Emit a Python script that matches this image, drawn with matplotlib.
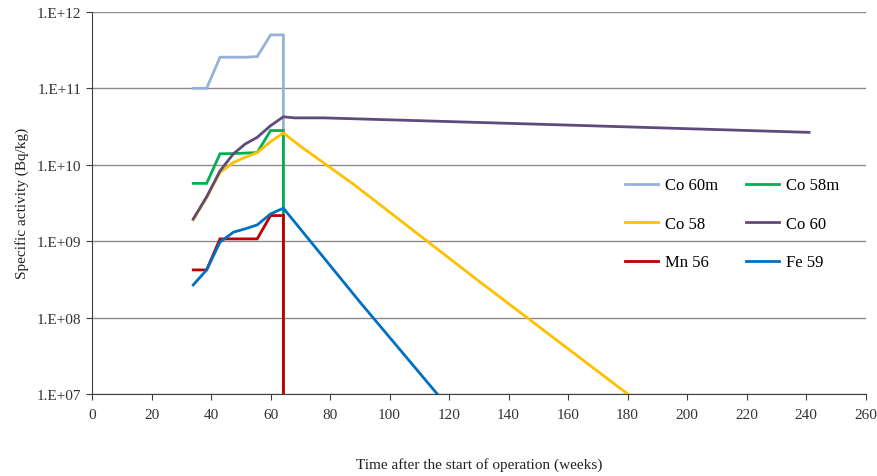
import numpy as np
import matplotlib.pyplot as plt

# weeks for the irradiation period (build-up), shared by all nuclides
weeks_build = [34, 38.5, 43, 47.5, 51.5, 55.5, 60, 64.3]

co60m_build = [1.0e11, 1.0e11, 2.55e11, 2.55e11, 2.55e11, 2.6e11, 5.0e11, 5.0e11]
co58m_build = [5.7e9, 5.7e9, 1.39e10, 1.40e10, 1.42e10, 1.44e10, 2.8e10, 2.8e10]
co58_build = [1.9e9, 3.7e9, 7.9e9, 1.07e10, 1.25e10, 1.44e10, 2.0e10, 2.6e10]
co60_build = [1.95e9, 3.8e9, 8.3e9, 1.39e10, 1.87e10, 2.28e10, 3.24e10, 4.24e10]
mn56_build = [4.2e8, 4.2e8, 1.07e9, 1.07e9, 1.07e9, 1.07e9, 2.16e9, 2.16e9]
fe59_build = [2.67e8, 4.2e8, 9.7e8, 1.31e9, 1.45e9, 1.63e9, 2.27e9, 2.7e9]

# after shutdown
weeks_short = [64.3]          # short-lived: falls straight off the axis
short_after = [1.0e3]
weeks_co58 = [70, 88, 130, 180]
co58_after = [1.75e10, 5.5e9, 3.0e8, 1.0e7]
weeks_co60 = [68, 78, 160, 241]
co60_after = [4.1e10, 4.1e10, 3.3e10, 2.65e10]
weeks_fe59 = [90, 116]
fe59_after = [1.6e8, 1.0e7]

plt.rcParams['font.family'] = ['Liberation Serif', 'DejaVu Serif']

fig = plt.figure(figsize=(8.77, 4.77), dpi=100)
ax = fig.add_axes([0.105, 0.172, 0.882, 0.801])

series = [
    ('Co 60m', '#95B3D7', weeks_build + weeks_short, co60m_build + short_after),
    ('Co 58', '#FFC000', weeks_build + weeks_co58, co58_build + co58_after),
    ('Mn 56', '#C00000', weeks_build + weeks_short, mn56_build + short_after),
    ('Co 58m', '#00B050', weeks_build + weeks_short, co58m_build + short_after),
    ('Co 60', '#604A7B', weeks_build + weeks_co60, co60_build + co60_after),
    ('Fe 59', '#0070C0', weeks_build + weeks_fe59, fe59_build + fe59_after),
]
# draw order as in the original: Co60m underneath, then others
z = {'Co 60m': 1, 'Co 58m': 2, 'Co 58': 3, 'Co 60': 4, 'Mn 56': 5, 'Fe 59': 6}
for name, color, x, y in series:
    ax.plot(x, y, color=color, lw=2.0, label=name, zorder=z[name] + 2,
            solid_joinstyle='miter')

ax.set_yscale('log')
ax.set_ylim(1e7, 1e12)
ax.set_xlim(0, 260)
ax.set_xticks(np.arange(0, 261, 20))
ax.set_yticks([1e7, 1e8, 1e9, 1e10, 1e11, 1e12])
ax.set_yticklabels(['1.E+07', '1.E+08', '1.E+09', '1.E+10', '1.E+11', '1.E+12'])
ax.yaxis.set_minor_locator(plt.NullLocator())
ax.grid(axis='y', color='#8c8c8c', lw=1.0)
ax.set_axisbelow(True)
for s in ['top', 'right']:
    ax.spines[s].set_visible(False)
ax.spines['left'].set_color('#404040')
ax.spines['bottom'].set_color('#404040')
ax.tick_params(axis='both', direction='out', length=4, color='#404040',
               labelsize=11, labelcolor='#333333')
ax.tick_params(axis='x', pad=6)

ax.set_xlabel('Time after the start of operation (weeks)', fontsize=11,
              color='#222222', labelpad=26)
ax.set_ylabel('Specific activity (Bq/kg)', fontsize=11, color='#222222',
              labelpad=6)

ax.legend(ncol=2, frameon=False, loc='upper left', bbox_to_anchor=(0.669, 0.606),
          fontsize=12, handlelength=2.0, labelspacing=1.35, columnspacing=1.7,
          handletextpad=0.4)

fig.savefig('out.png', dpi=100)
